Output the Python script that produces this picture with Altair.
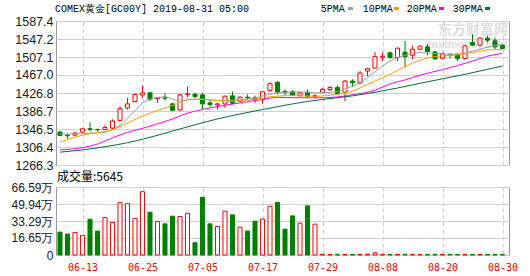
import altair as alt
import pandas as pd

# ---------------- data ----------------
dates = ["06-10","06-11","06-12","06-13","06-14","06-17","06-18","06-19","06-20","06-21",
         "06-24","06-25","06-26","06-27","06-28","07-01","07-02","07-03","07-04","07-05",
         "07-08","07-09","07-10","07-11","07-12","07-15","07-16","07-17","07-18","07-19",
         "07-22","07-23","07-24","07-25","07-26","07-29","07-30","07-31","08-01","08-02",
         "08-05","08-06","08-07","08-08","08-09","08-12","08-13","08-14","08-15","08-16",
         "08-19","08-20","08-21","08-22","08-23","08-26","08-27","08-28","08-29","08-30"]

opens = [1339.6,1332.5,1332.9,1339.6,1347.1,1345.5,1345.6,1348.6,1365.8,1393.5,
         1407.8,1422.7,1427.2,1414.0,1417.5,1402.5,1389.0,1423.5,1424.2,1422.7,
         1404.8,1400.3,1402.5,1420.5,1408.5,1417.5,1416.0,1413.0,1432.5,1450.5,
         1430.2,1429.5,1422.0,1428.7,1419.0,1428.7,1434.7,1439.2,1428.7,1453.4,
         1449.7,1475.9,1482.6,1507.0,1516.5,1505.8,1517.8,1511.0,1524.5,1529.8,
         1518.5,1504.3,1513.3,1512.5,1503.6,1539.5,1533.5,1549.2,1543.2,1533.5]
highs = [1341.9,1335.9,1341.1,1347.5,1362.1,1347.1,1354.6,1368.1,1397.3,1416.0,
         1425.7,1443.7,1428.7,1416.3,1426.5,1404.8,1425.0,1440.7,1427.2,1426.5,
         1410.0,1404.8,1421.2,1430.2,1419.7,1423.5,1421.2,1431.0,1451.2,1453.4,
         1434.7,1433.2,1430.2,1434.7,1423.5,1438.4,1442.2,1443.7,1455.6,1457.2,
         1475.9,1482.0,1518.5,1517.0,1518.0,1528.3,1543.2,1532.0,1532.8,1535.8,
         1520.8,1517.0,1514.8,1514.8,1534.3,1558.2,1550.7,1554.5,1550.7,1535.8]
lows = [1330.7,1324.7,1329.9,1339.0,1341.1,1341.1,1344.1,1346.4,1363.6,1389.8,
        1406.3,1416.0,1408.5,1404.8,1410.0,1386.1,1387.6,1416.7,1416.0,1389.8,
        1395.0,1389.8,1393.5,1401.8,1407.0,1410.8,1404.0,1402.5,1429.5,1423.5,
        1422.0,1419.7,1418.2,1416.0,1416.0,1427.2,1431.0,1423.5,1408.5,1440.7,
        1446.0,1464.6,1481.1,1498.3,1503.6,1498.3,1483.3,1502.0,1522.3,1511.0,
        1501.3,1502.0,1503.6,1498.3,1501.3,1532.0,1531.3,1539.5,1524.5,1524.5]
closes = [1332.2,1331.5,1337.4,1347.1,1345.8,1344.8,1350.1,1364.3,1392.0,1402.5,
          1423.5,1427.2,1413.0,1416.0,1415.2,1388.3,1422.7,1425.0,1419.0,1402.5,
          1401.0,1402.5,1419.7,1404.0,1417.5,1416.0,1413.0,1429.5,1447.4,1429.0,
          1428.0,1422.0,1427.2,1419.7,1421.0,1434.7,1439.2,1425.7,1453.4,1449.7,
          1471.4,1481.1,1508.0,1509.0,1505.8,1526.8,1508.0,1524.5,1531.3,1519.3,
          1502.8,1514.8,1510.3,1503.6,1532.0,1533.5,1549.2,1544.7,1529.8,1526.0]
volumes = [224000,205000,221000,192000,351000,234000,367000,318000,513000,503000,
           357000,620000,419000,328000,305000,380000,377000,409000,120000,565000,
           305000,279000,429000,393000,273000,234000,331000,351000,477000,516000,
           253000,383000,312000,481000,302000,6200,5400,7000,5800,6400,
           5100,8000,21000,6900,6100,5600,7300,6000,5200,5900,
           6600,5500,6300,5000,5800,6200,5400,6100,5700,5645]

ma_names = ["5PMA", "10PMA", "20PMA", "30PMA"]
ma5_idx = [0,2,4,6,7,8,9,10,11,12,13,14,15,16,18,20,22,24,26,28,30,32,34,36,37,38,40,42,44,46,48,50,52,54,56,58,59]
ma5_val = [1335.5,1335.5,1337.5,1339.5,1345,1355,1371,1387.5,1404.5,1412.5,1417.5,1418,1413,1409,1413.5,1411,1410,1412,1416,1424,
           1428.5,1429.5,1427,1428.5,1430,1436,1450,1474,1498,1511,1517,1515,1513,1516,1524.5,1533,1534.5]
ma10_idx = [0,1,2,4,5,7,8,10,11,13,15,16,17,19,21,23,25,27,29,31,34,37,39,41,44,46,48,50,53,55,57,59]
ma10_val = [1317.3,1323,1328.4,1336,1338.5,1345,1352,1368,1375,1388,1399,1406,1412,1413,1410,1408.5,1411,1416,1420,1421,
            1419.7,1424,1431,1446,1468.4,1486,1500,1508,1512,1517,1523,1524]
ma20_idx = [0,3,5,7,9,11,13,15,17,19,22,25,27,29,31,34,37,39,42,44,46,48,51,53,55,57,59]
ma20_val = [1300,1305,1313,1327,1339,1348,1358,1369,1382,1390,1399.5,1407.5,1412.5,1417,1416.5,1416,1418,1423,1433,1447,
            1456,1466.5,1479,1488,1498,1509,1515]
ma30_idx = [0,3,6,9,12,15,18,21,24,27,30,33,36,39,42,45,48,51,54,57,59]
ma30_val = [1295,1300,1307,1316,1328,1342,1356,1369,1380,1390,1399.5,1408,1414.5,1420.5,1428.5,1438,1448.5,1458.5,1468.5,1479.6,1487]

tick_idx = [3, 11, 19, 27, 35, 43, 51, 59]
price_ticks = [1266.3, 1306.4, 1346.5, 1386.7, 1426.8, 1467.0, 1507.1, 1547.2, 1587.4]
vol_ticks = [0, 166500, 332900, 499400, 665900]

title_text = "COMEX黄金[GC00Y] 2019-08-31 05:00"
wm_cn = "东方财富网"
wm_en = "eastmoney.com"

# ---------------- styles ----------------
RED = "#ff0000"
GREEN = "#008000"
ma_colors = ["#a0a0a0", "#f5a300", "#ff00ff", "#00703a"]
GRID = "#cfcfcf"
W, HP, HV = 453, 144, 68

cdf = pd.DataFrame({"i": list(range(len(dates))), "date": dates, "open": opens, "high": highs,
                    "low": lows, "close": closes, "volume": volumes})

rows = []
for name, idx, val in zip(ma_names, [ma5_idx, ma10_idx, ma20_idx, ma30_idx],
                          [ma5_val, ma10_val, ma20_val, ma30_val]):
    for a, b in zip(idx, val):
        rows.append({"i": a, "value": b, "name": name})
madf = pd.DataFrame(rows)

xscale = alt.Scale(domain=[-4 / 7.5, (W - 4) / 7.5], nice=False, zero=False)
label_expr = "[" + ",".join("'%s'" % d for d in dates) + "][datum.value]"

x_price_axis = alt.Axis(values=tick_idx, labels=False, ticks=False, domain=False, grid=True,
                        gridDash=[4, 3], gridColor=GRID, title=None)
y_price_axis = alt.Axis(values=price_ticks, format=".1f", grid=True, gridColor=GRID, ticks=False,
                        domain=False, labelPadding=3, labelFont="Liberation Sans", labelFontSize=12.5,
                        labelColor="#1a1a1a", labelFlush=False, labelBaseline="middle", title=None)
yscale_p = alt.Scale(domain=[1266.3, 1587.4], nice=False, zero=False)

stroke_enc = alt.Stroke("dir:N", scale=alt.Scale(domain=["up", "down"], range=[RED, GREEN]), legend=None)
fill_enc = alt.Fill("dir:N", scale=alt.Scale(domain=["up", "down"], range=["#ffffff", GREEN]), legend=None)

base = alt.Chart(cdf).transform_calculate(
    dir="datum.close >= datum.open ? 'up' : 'down'",
    xa="datum.i - 0.27",
    xb="datum.i + 0.27",
)

# watermark
wm1 = alt.Chart(pd.DataFrame({"t": [wm_cn]})).mark_text(
    align="right", baseline="alphabetic", font="Noto Sans CJK SC", fontSize=14, fontWeight="bold",
    color="#dedede").encode(x=alt.value(452), y=alt.value(13), text="t:N")
wm2 = alt.Chart(pd.DataFrame({"t": [wm_en]})).mark_text(
    align="right", baseline="alphabetic", font="Liberation Sans", fontSize=11, fontWeight="bold",
    color="#dedede").encode(x=alt.value(452), y=alt.value(27), text="t:N")

wicks = base.mark_rule(strokeWidth=1).encode(
    x=alt.X("i:Q", scale=xscale, axis=x_price_axis),
    y=alt.Y("low:Q", scale=yscale_p, axis=y_price_axis),
    y2="high:Q",
    stroke=stroke_enc,
)
bodies = base.mark_rect(strokeWidth=1).encode(
    x=alt.X("xa:Q", scale=xscale, axis=x_price_axis),
    x2="xb:Q",
    y=alt.Y("open:Q", scale=yscale_p, axis=y_price_axis),
    y2="close:Q",
    fill=fill_enc,
    stroke=stroke_enc,
)
ma_lines = alt.Chart(madf).mark_line(strokeWidth=1, interpolate="monotone").encode(
    x=alt.X("i:Q", scale=xscale, axis=x_price_axis),
    y=alt.Y("value:Q", scale=yscale_p, axis=y_price_axis),
    color=alt.Color("name:N", scale=alt.Scale(domain=ma_names, range=ma_colors), legend=None),
    detail="name:N",
)

header = alt.Chart(pd.DataFrame({"t": [title_text]})).mark_text(
    align="left", baseline="alphabetic", font="Liberation Mono", fontSize=10, color="#000000"
).encode(x=alt.value(-1), y=alt.value(-9), text="t:N")

legend_layers = []
text_x = [264.7, 306.7, 350.7, 396.7]
sq_x = [292, 338, 383, 429]
for name, col, tx, sx in zip(ma_names, ma_colors, text_x, sq_x):
    legend_layers.append(alt.Chart(pd.DataFrame({"t": [name]})).mark_text(
        align="left", baseline="alphabetic", font="Liberation Mono", fontSize=10, color="#000000"
    ).encode(x=alt.value(tx), y=alt.value(-9), text="t:N"))
    legend_layers.append(alt.Chart(pd.DataFrame({"t": [name]})).mark_rect(color=col).encode(
        x=alt.value(sx), x2=alt.value(sx + 5), y=alt.value(-14), y2=alt.value(-11)))

price = alt.layer(wm1, wm2, wicks, bodies, ma_lines, header, *legend_layers).properties(width=W, height=HP)

# ---------------- volume ----------------
x_vol_axis = alt.Axis(values=tick_idx, labelExpr=label_expr, ticks=False, domain=False, grid=True,
                      gridDash=[4, 3], gridColor=GRID, labelColor=RED, labelFont="DejaVu Sans Mono",
                      labelFontSize=10, labelPadding=7, labelBaseline="top", labelFlush=False, title=None)
y_vol_axis = alt.Axis(values=vol_ticks, grid=True, gridColor=GRID, ticks=False, domain=False,
                      labelExpr="datum.value == 0 ? '0' : format(datum.value / 10000, '.2f') + '万'",
                      labelPadding=3, labelFont="Liberation Sans", labelFontSize=12, labelColor="#1a1a1a",
                      labelFlush=False, labelBaseline="middle", title=None)
vbars = base.mark_rect(strokeWidth=1).encode(
    x=alt.X("xa:Q", scale=xscale, axis=x_vol_axis),
    x2="xb:Q",
    y=alt.Y("volume:Q", scale=alt.Scale(domain=[0, 665900], nice=False, zero=True), axis=y_vol_axis),
    y2=alt.datum(0),
    fill=fill_enc,
    stroke=stroke_enc,
)
vol_text = alt.Chart(pd.DataFrame({"t": ["成交量:%d" % volumes[-1]]})).mark_text(
    align="left", baseline="middle", font="Noto Sans CJK SC", fontSize=12, color="#000000"
).encode(x=alt.value(1), y=alt.value(-10.5), text="t:N")

volume = alt.layer(vbars, vol_text).properties(width=W, height=HV)

chart = alt.vconcat(price, volume, spacing=22, bounds="flush").properties(
    padding={"left": 56, "top": 21, "right": 530 - 56 - W, "bottom": 276 - 21},
    autosize=alt.AutoSizeParams(type="none"),
    background="white",
).configure_view(stroke="#999999", strokeWidth=1)

chart.save("out.html", embed_options={"renderer": "svg", "actions": False})
